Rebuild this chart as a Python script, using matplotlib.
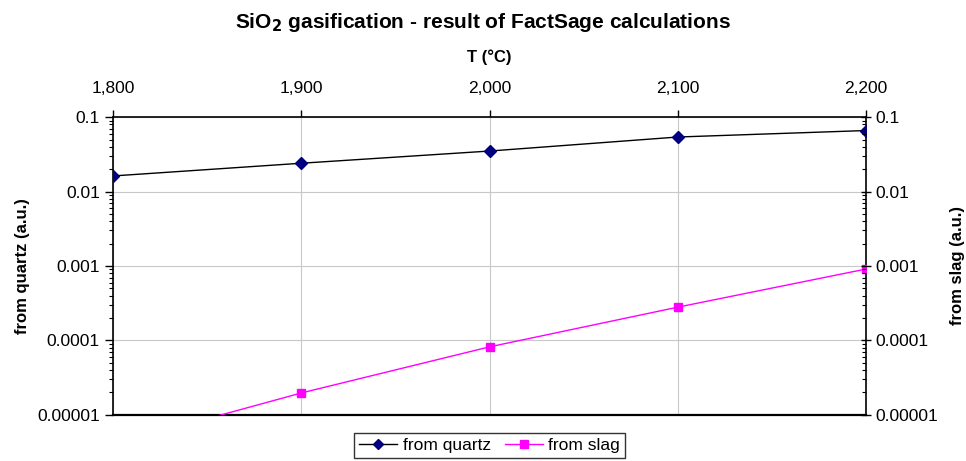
import matplotlib
matplotlib.use("Agg")
import matplotlib.pyplot as plt
from matplotlib.ticker import NullFormatter, LogLocator

plt.rcParams['font.family'] = ['Liberation Sans', 'DejaVu Sans']

temperature = [1800, 1900, 2000, 2100, 2200]
from_quartz = [0.0162, 0.024, 0.035, 0.054, 0.066]
from_slag = [0.000004, 0.0000197, 0.000082, 0.00028, 0.00091]
x_tick_labels = ["1,800", "1,900", "2,000", "2,100", "2,200"]
y_ticks = [0.00001, 0.0001, 0.001, 0.01, 0.1]
y_tick_labels = ["0.00001", "0.0001", "0.001", "0.01", "0.1"]

fig = plt.figure(figsize=(9.66, 4.61), dpi=100)
ax = fig.add_axes([0.117, 0.1, 0.7795, 0.646])

ax.plot(temperature, from_quartz, color='black', lw=1.0, marker='D', ms=6,
        mfc='#000080', mec='#000080', label='from quartz', zorder=3)
ax.plot(temperature, from_slag, color='#ff00ff', lw=1.0, marker='s', ms=6,
        mfc='#ff00ff', mec='#ff00ff', label='from slag', zorder=3)

ax.set_yscale('log')
ax.set_xlim(1800, 2200)
ax.set_ylim(1e-5, 0.1)
ax.set_xticks(temperature)
ax.set_xticklabels(x_tick_labels, fontsize=12.5)
ax.xaxis.tick_top()
ax.xaxis.set_label_position('top')
ax.set_xlabel('T (°C)', fontsize=12, fontweight='bold', labelpad=14)
ax.set_yticks(y_ticks)
ax.set_yticklabels(y_tick_labels, fontsize=12.5)
ax.yaxis.set_minor_locator(LogLocator(base=10, subs=range(2, 10)))
ax.yaxis.set_minor_formatter(NullFormatter())
ax.set_ylabel('from quartz (a.u.)', fontsize=12, fontweight='bold', labelpad=5)

ax.grid(True, which='major', color='#c8c8c8', lw=0.8)
ax.set_axisbelow(True)
ax.tick_params(axis='x', which='both', direction='out', length=5, width=1, pad=10)
ax.tick_params(axis='y', which='major', direction='out', length=6, width=1)
ax.tick_params(axis='y', which='minor', direction='out', length=3, width=0.8)
for s in ax.spines.values():
    s.set_color('black')
    s.set_linewidth(1.2)
ax.spines['bottom'].set_linewidth(1.6)

ax2 = ax.twinx()
ax2.set_yscale('log')
ax2.set_ylim(1e-5, 0.1)
ax2.set_yticks(y_ticks)
ax2.set_yticklabels(y_tick_labels, fontsize=12.5)
ax2.yaxis.set_minor_locator(LogLocator(base=10, subs=range(2, 10)))
ax2.yaxis.set_minor_formatter(NullFormatter())
ax2.tick_params(axis='y', which='major', direction='inout', length=7, width=1)
ax2.tick_params(axis='y', which='minor', direction='in', length=3, width=0.8)
ax2.set_ylabel('from slag (a.u.)', fontsize=12, fontweight='bold', labelpad=8)
for s in ax2.spines.values():
    s.set_visible(False)
ax.spines['right'].set_visible(True)

fig.text(0.5, 0.952, r'SiO$_\mathbf{2}$ gasification - result of FactSage calculations',
         ha='center', va='center', fontsize=15, fontweight='bold')

leg = ax.legend(loc='center', bbox_to_anchor=(0.5, -0.103), bbox_transform=ax.transAxes,
                ncol=2, fontsize=12.5, frameon=True, fancybox=False, edgecolor='black',
                handlelength=2.2, handletextpad=0.3, columnspacing=0.8,
                borderpad=0.3, markerscale=0.85)
leg.get_frame().set_linewidth(1.0)

fig.savefig('out.png', dpi=100)
